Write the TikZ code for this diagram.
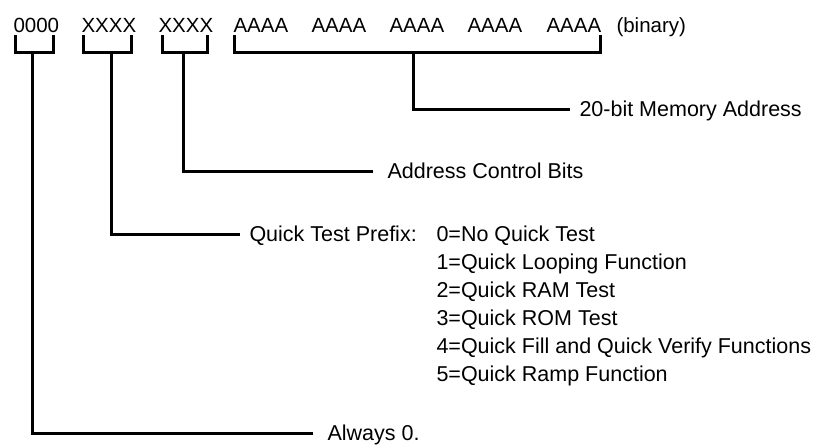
\documentclass[tikz,border=0pt]{standalone}
\usepackage{fontspec}
\setmainfont{Liberation Sans}
\usepackage{tikz}
\usetikzlibrary{positioning}

\begin{document}
\begin{tikzpicture}[x=1pt, y=-1pt, line width=3pt,
    font=\fontsize{21.5}{24}\selectfont,
    fld/.style={anchor=west, text height=14pt, text depth=0pt, inner sep=0pt},
    lbl/.style={anchor=west, text height=14pt, text depth=0pt, inner ysep=0pt, inner xsep=8pt}]
    \useasboundingbox (0,0) rectangle (831,445);

    % Feldbreiten
    \begin{scope}[font=\fontsize{20.5}{24}\selectfont]
    \node[fld] (z0) at (12,25) {0000};
    \node[fld] (x1) at (80,25) {XXXX};
    \node[fld] (x2) at (157,25) {XXXX};
    \node[fld] (a1) at (232,25) {AAAA};
    \node[fld] (a2) at (310,25) {AAAA};
    \node[fld] (a3) at (388,25) {AAAA};
    \node[fld] (a4) at (466,25) {AAAA};
    \node[fld] (a5) at (545,25) {AAAA};
    \node[fld] (bin) at (615,25) {(binary)};
    \end{scope}

    % Klammern
    \draw (15,35) -- (15,52) -- (53,52) -- (53,35);
    \draw (83,35) -- (83,52) -- (131,52) -- (131,35);
    \draw (162,35) -- (162,52) -- (207,52) -- (207,35);
    \draw (234,35) -- (234,52) -- (600,52) -- (600,35);
    \coordinate (s0) at (32,52);
    \coordinate (s1) at (111,52);
    \coordinate (s2) at (183,52);
    \coordinate (s3) at (413,52);

    % Beschriftungen
    \node[lbl] (mem) at (570,109) {20-bit Memory Address};
    \node[lbl, inner xsep=13pt] (acb) at (373,171) {Address Control Bits};
    \node[lbl] (qtp) at (240,234) {Quick Test Prefix:};
    \node[lbl, inner xsep=13pt] (alw) at (313,433) {Always 0.};

    % Quick Test
    \node[fld] (q0) at (435,234) {0=No Quick Test};
    \node[fld] (q1) at (435,262) {1=Quick Looping Function};
    \node[fld] (q2) at (435,290) {2=Quick RAM Test};
    \node[fld] (q3) at (435,318) {3=Quick ROM Test};
    \node[fld] (q4) at (435,346) {4=Quick Fill and Quick Verify Functions};
    \node[fld] (q5) at (435,374) {5=Quick Ramp Function};

    % Verbindungen
    \draw (s3) |- (mem.west);
    \draw (s2) |- (acb.west);
    \draw (s1) |- (qtp.west);
    \draw (s0) |- (alw.west);
\end{tikzpicture}
\end{document}
